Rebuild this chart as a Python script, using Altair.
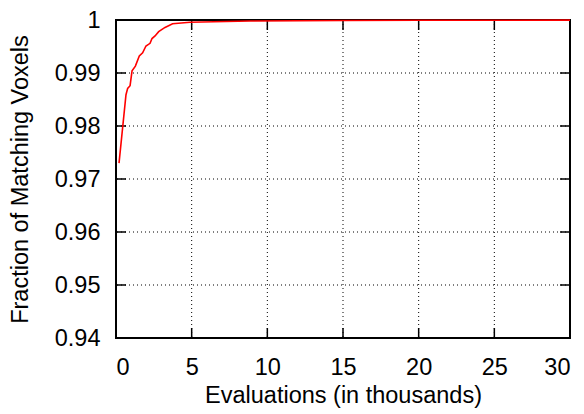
import altair as alt
import pandas as pd

# data (evaluations in thousands, fraction of matching voxels)
evals = [0.2, 0.66, 0.77, 0.93, 1.06, 1.28, 1.54, 1.76, 1.98, 2.25, 2.38, 2.58,
         2.82, 3.24, 3.74, 4.89, 8.86, 15, 20, 30]
fraction = [0.9730, 0.9859, 0.9871, 0.9876, 0.9904, 0.9913, 0.9932, 0.9938,
            0.9951, 0.9956, 0.9965, 0.9970, 0.9978, 0.9986, 0.9993, 0.99957,
            0.99982, 0.9999, 0.99995, 0.99997]
x_ticks = [0, 5, 10, 15, 20, 25, 30]
y_ticks = [0.94, 0.95, 0.96, 0.97, 0.98, 0.99, 1.0]

df = pd.DataFrame({"x": evals, "y": fraction})
xt = pd.DataFrame({"x": x_ticks})
yt = pd.DataFrame({"y": y_ticks})

FONT = "Liberation Sans"
FS = 23.5
W, H = 454, 318

xscale = alt.Scale(domain=[0, 30], nice=False, zero=False)
yscale = alt.Scale(domain=[0.94, 1.0], nice=False, zero=False)

line = alt.Chart(df).mark_line(color="#ff0000", strokeWidth=1.6).encode(
    x=alt.X("x:Q", scale=xscale,
            axis=alt.Axis(values=x_ticks, title="Evaluations (in thousands)",
                          grid=False, ticks=False, domain=False,
                          labelPadding=17, titlePadding=5, format="d")),
    y=alt.Y("y:Q", scale=yscale,
            axis=alt.Axis(values=y_ticks, title="Fraction of Matching Voxels",
                          grid=False, ticks=False, domain=False,
                          labelPadding=16, titlePadding=22,
                          labelExpr="datum.value == 1 ? '1' : format(datum.value, '.2f')")),
)

xgrid = alt.Chart(xt[(xt.x > 0) & (xt.x < 30)]).mark_rule(
    color="#000000", strokeWidth=1, strokeDash=[1, 3]).encode(x=alt.X("x:Q", scale=xscale))
ygrid = alt.Chart(yt[(yt.y > 0.94) & (yt.y < 1.0)]).mark_rule(
    color="#000000", strokeWidth=1, strokeDash=[1, 3]).encode(y=alt.Y("y:Q", scale=yscale))

TL = 10
xtick_b = alt.Chart(xt).mark_rule(color="black", strokeWidth=1.5).encode(
    x=alt.X("x:Q", scale=xscale), y=alt.value(H), y2=alt.value(H - TL))
xtick_t = alt.Chart(xt).mark_rule(color="black", strokeWidth=1.5).encode(
    x=alt.X("x:Q", scale=xscale), y=alt.value(0), y2=alt.value(TL))
ytick_l = alt.Chart(yt).mark_rule(color="black", strokeWidth=1.5).encode(
    y=alt.Y("y:Q", scale=yscale), x=alt.value(0), x2=alt.value(TL))
ytick_r = alt.Chart(yt).mark_rule(color="black", strokeWidth=1.5).encode(
    y=alt.Y("y:Q", scale=yscale), x=alt.value(W), x2=alt.value(W - TL))

chart = alt.layer(xgrid, ygrid, xtick_b, xtick_t, ytick_l, ytick_r, line).properties(
    width=W, height=H,
    autosize=alt.AutoSizeParams(type="none"),
    padding={"left": 108, "top": 12, "right": 6, "bottom": 76},
).configure_view(
    stroke="black", strokeWidth=2
).configure_axis(
    labelFont=FONT, titleFont=FONT, labelFontSize=FS, titleFontSize=FS,
    labelColor="black", titleColor="black", titleFontWeight="normal",
)

chart.save("out.html", embed_options={"renderer": "svg", "actions": False})
